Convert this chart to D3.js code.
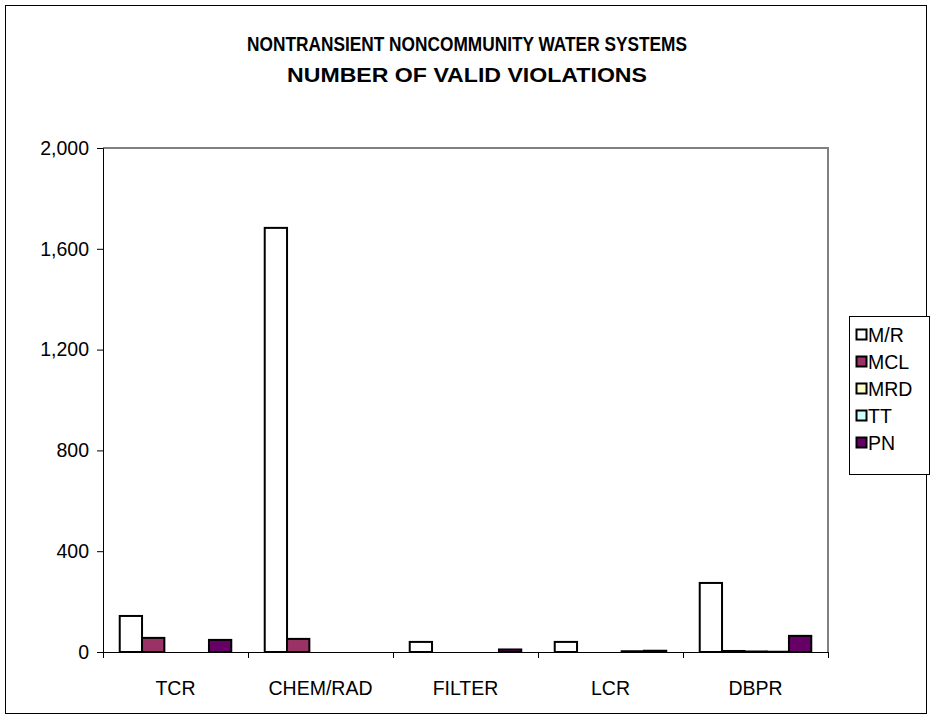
<!DOCTYPE html>
<html><head><meta charset="utf-8">
<script src="https://cdn.jsdelivr.net/npm/d3@7"></script>
<style>body{margin:0;background:#fff}svg{display:block}text{font-family:Arial,"Liberation Sans",sans-serif}</style>
</head><body>
<svg id="c" width="932" height="719"></svg>
<script>
const categories = ["TCR","CHEM/RAD","FILTER","LCR","DBPR"];
const seriesNames = ["M/R","MCL","MRD","TT","PN"];
const seriesColors = ["#FFFFFF","#993366","#FFFFCC","#CCFFFF","#660066"];
const mrValues  = [143, 1683, 40, 40, 274];
const mclValues = [56, 52, 0, 0, 4];
const mrdValues = [0, 0, 0, 0, 2];
const ttValues  = [0, 0, 0, 3, 1];
const pnValues  = [48, 0, 10, 5, 64];
const yTicks = [0, 400, 800, 1200, 1600, 2000];
const titleLines = ["NONTRANSIENT NONCOMMUNITY WATER SYSTEMS","NUMBER OF VALID VIOLATIONS"];
const titleWidths = [440, 360];

const seriesValues = [mrValues, mclValues, mrdValues, ttValues, pnValues];
const svg = d3.select("#c");
const L = 103, R = 828, T = 148, B = 652;

svg.append("rect").attr("x",5.5).attr("y",5.5).attr("width",921).attr("height",708)
  .attr("fill","#fff").attr("stroke","#000").attr("stroke-width",1);

svg.selectAll("text.title").data(titleLines).enter().append("text")
  .attr("x",467).attr("y",(d,i)=>51+i*31).attr("text-anchor","middle")
  .attr("font-size","19.5px").attr("font-weight","bold")
  .attr("textLength",(d,i)=>titleWidths[i]).attr("lengthAdjust","spacingAndGlyphs").text(d=>d);

const x0 = d3.scaleBand().domain(categories).range([L,R]).paddingInner(0).paddingOuter(0);
// Excel gap width 150%: category = 6.5 bar widths, 0.75 each side
const bw = x0.bandwidth()/6.5;
const xs = d3.scaleLinear().domain([0,5]).range([0.75*bw, 5.75*bw]);
const y = d3.scaleLinear().domain([0,2000]).range([B,T]);

svg.append("path").attr("d",`M${L},${T}H${R}V${B}`).attr("fill","none").attr("stroke","#808080").attr("stroke-width",2);

const g = svg.append("g");
categories.forEach((c,ci)=>{
  seriesNames.forEach((s,si)=>{
    const v = seriesValues[si][ci];
    if(v<=0) return;
    g.append("rect").attr("x",x0(c)+xs(si)).attr("width",bw)
      .attr("y",y(v)).attr("height",B-y(v))
      .attr("fill",seriesColors[si]).attr("stroke","#000").attr("stroke-width",2);
  });
});

const ya = d3.axisLeft(y).tickValues(yTicks).tickFormat(d3.format(",")).tickSize(6).tickPadding(8);
const yg = svg.append("g").attr("transform",`translate(${L},0)`).call(ya);
yg.select(".domain").attr("stroke","#000");
yg.selectAll("text").attr("font-size","19.5px").attr("fill","#000").style("font-family","Arial, 'Liberation Sans', sans-serif");

const xa = d3.axisBottom(d3.scaleLinear().domain([0,5]).range([L,R])).tickValues([0,1,2,3,4,5]).tickFormat("").tickSize(6).tickSizeOuter(0);
const xg = svg.append("g").attr("transform",`translate(0,${B})`).call(xa);
xg.select(".domain").attr("stroke","#000");
svg.selectAll("text.cat").data(categories).enter().append("text")
  .attr("x",d=>x0(d)+x0.bandwidth()/2).attr("y",695).attr("text-anchor","middle")
  .attr("font-size","19.5px").text(d=>d);

const lg = svg.append("g");
lg.append("rect").attr("x",849.5).attr("y",316.5).attr("width",80).attr("height",158).attr("fill","#fff").attr("stroke","#000");
seriesNames.forEach((s,i)=>{
  const yy = 335 + i*27;
  lg.append("rect").attr("x",856.5).attr("y",yy-5.5).attr("width",10).attr("height",10)
    .attr("fill",seriesColors[i]).attr("stroke","#000").attr("stroke-width",2);
  lg.append("text").attr("x",868).attr("y",yy+7).attr("font-size","19.5px").text(s);
});
</script>
</body></html>
